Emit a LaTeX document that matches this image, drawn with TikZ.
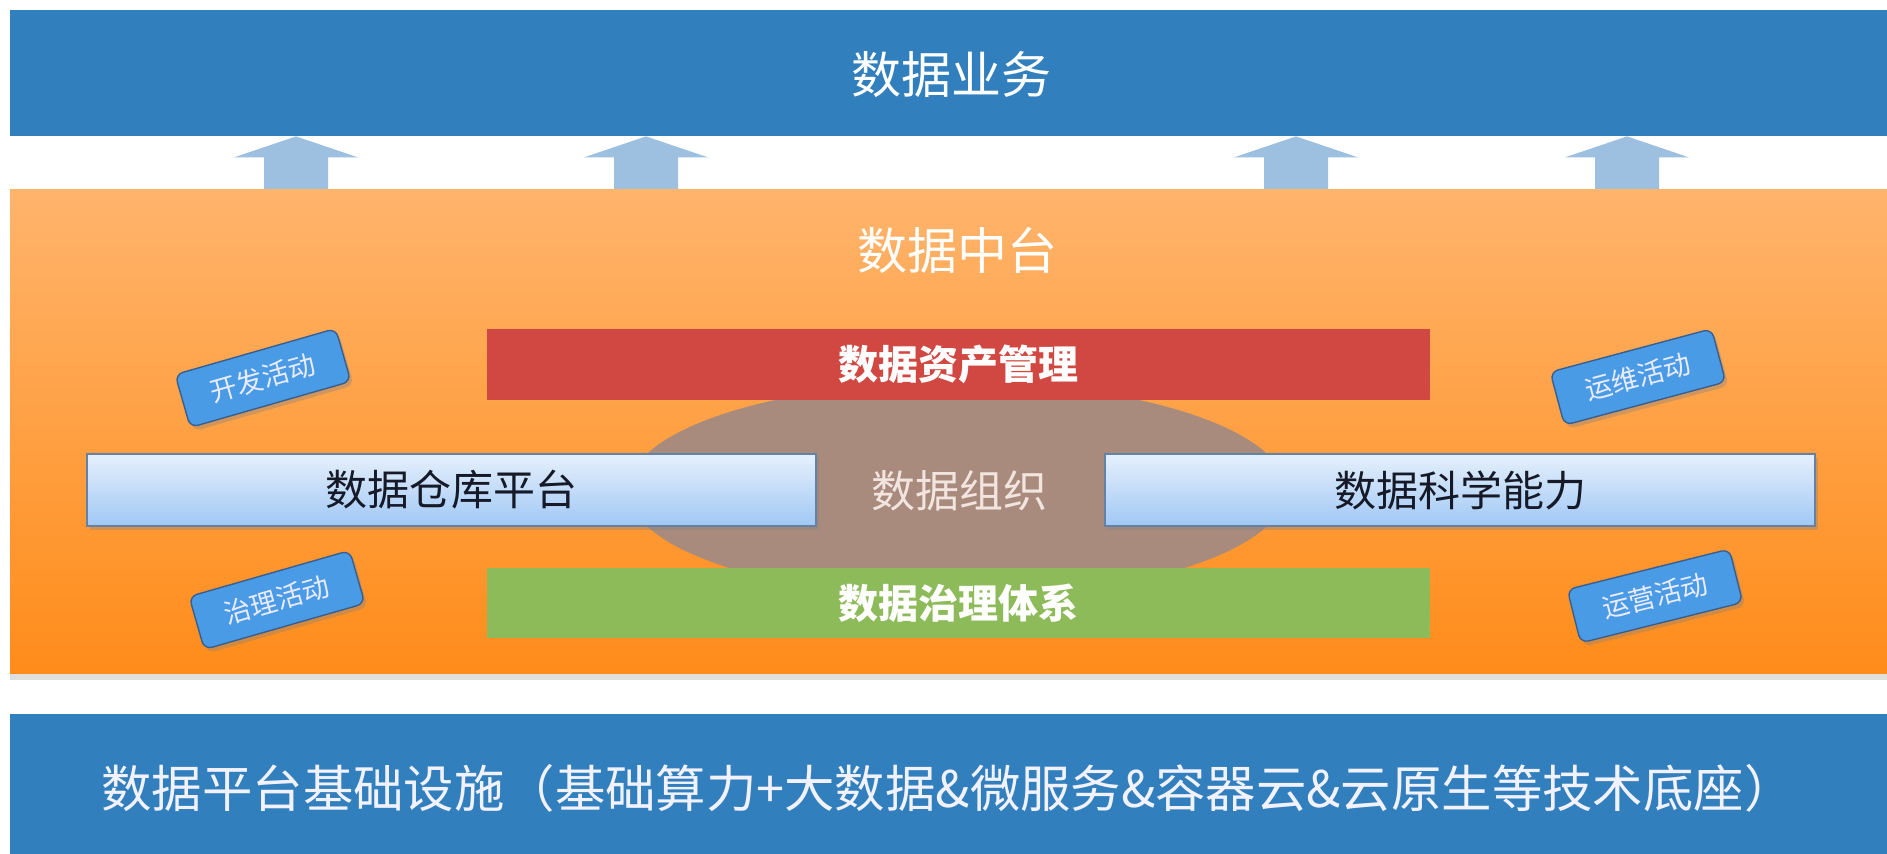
\documentclass[tikz,border=0pt]{standalone}
\usepackage{fontspec}
\newfontfamily\cjk{Noto Sans CJK SC}
\usetikzlibrary{shadows,shapes.geometric,calc}
\definecolor{barblue}{RGB}{50,127,189}
\definecolor{arrowblue}{RGB}{157,191,224}
\definecolor{orangetop}{RGB}{255,180,108}
\definecolor{orangebot}{RGB}{255,140,26}
\definecolor{redbar}{RGB}{209,72,66}
\definecolor{greenbar}{RGB}{141,187,89}
\definecolor{orgfill}{RGB}{168,139,125}
\definecolor{boxtop}{RGB}{230,240,252}
\definecolor{boxbot}{RGB}{160,200,245}
\definecolor{boxedge}{RGB}{100,130,165}
\definecolor{actfill}{RGB}{74,155,230}
\definecolor{actedge}{RGB}{55,95,145}
\definecolor{darktext}{RGB}{22,26,40}
\definecolor{orgtext}{RGB}{242,228,222}
\begin{document}
\begin{tikzpicture}[x=0.5pt,y=-0.5pt,font=\cjk,
  bar/.style={fill=barblue,inner sep=0pt,minimum width=938.5pt},
  blockarrow/.style={fill=arrowblue},
  panel/.style={top color=orangetop,bottom color=orangebot,inner sep=0pt,
    minimum width=938.5pt,minimum height=242pt,
    drop shadow={opacity=0.25,shadow xshift=0pt,shadow yshift=-3pt}},
  band/.style={inner sep=0pt,minimum width=471.5pt,text=white,font=\cjk\bfseries\fontsize{20}{24}\selectfont},
  platbox/.style={top color=boxtop,bottom color=boxbot,draw=boxedge,line width=0.8pt,inner sep=0pt,
    minimum height=36pt,text=darktext,font=\cjk\fontsize{21}{25}\selectfont,
    drop shadow={opacity=0.35,shadow xshift=1.5pt,shadow yshift=-2pt}},
  activity/.style={fill=actfill,draw=actedge,line width=0.7pt,rounded corners=4pt,
    minimum width=83.5pt,minimum height=27.5pt,inner sep=0pt,rotate=16,
    text=white!92!blue,font=\cjk\fontsize{13.5}{16}\selectfont,
    drop shadow={opacity=0.35,shadow xshift=1.5pt,shadow yshift=-2pt}}]
\useasboundingbox (0,0) rectangle (1887,854);
\fill[white] (0,0) rectangle (1887,854);

% top bar
\node[bar,minimum height=63pt] (top) at (948.5,73) {};
\node[text=white,font=\cjk\fontsize{25}{30}\selectfont] (toptext) at (951,75) {数据业务};

% block arrows
\foreach \n/\ax in {1/296,2/646,3/1296,4/1627}{
  \coordinate (t\n) at (\ax,0 |- top.south);
  \fill[blockarrow] (t\n) -- ++(62,21) -- ++(-30,0) -- ++(0,36) -- ++(-64,0) -- ++(0,-36) -- ++(-30,0) -- cycle;
}

% middle platform
\node[panel] (mid) at (948.5,432) {};
\node[text=white,font=\cjk\fontsize{25}{30}\selectfont] (midtext) at (957,250) {数据中台};

% organisation ellipse
\node[ellipse,fill=orgfill,inner sep=0pt,minimum width=329pt,minimum height=108pt] (org) at (957,490) {};

\node[band,fill=redbar,minimum height=35.5pt] (asset) at (958.5,364.5) {数据资产管理};
\node[band,fill=greenbar,minimum height=35pt] (gov) at (958.5,603) {数据治理体系};

\node[text=orgtext,font=\cjk\fontsize{22}{26}\selectfont] (orgtext) at (959,491) {数据组织};

\node[platbox,minimum width=364.5pt] (dw) at (451.5,490) {数据仓库平台};
\node[platbox,minimum width=355pt] (ds) at (1460,490) {数据科学能力};

% activities
\node[activity] (dev) at (263,378) {开发活动};
\node[activity] (govact) at (277,600) {治理活动};
\node[activity,rotate=-1] (ops) at (1638,377) {运维活动};
\node[activity,rotate=-2] (run) at (1655,596) {运营活动};

% bottom bar
\node[bar,minimum height=70pt] (base) at (948.5,784) {};
\node[text=white!95!blue,font=\cjk\fontsize{25.2}{30}\selectfont] (basetext) at (948,788) {数据平台基础设施（基础算力+大数据\&微服务\&容器云\&云原生等技术底座）};
\end{tikzpicture}
\end{document}
